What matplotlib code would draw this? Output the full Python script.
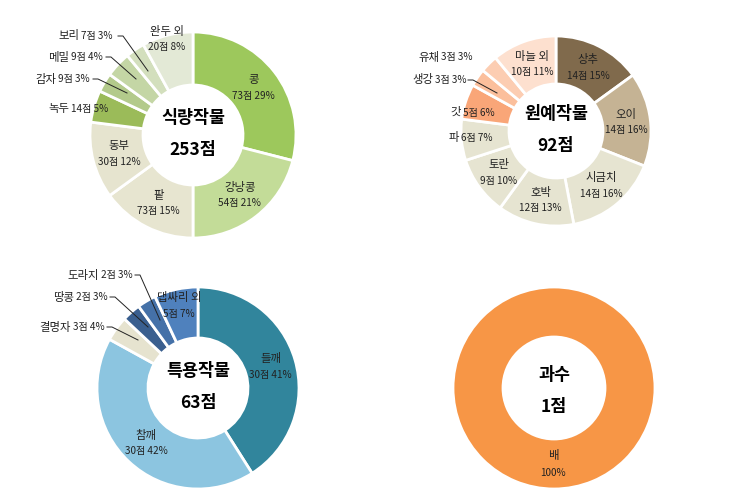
import numpy as np
import matplotlib
matplotlib.use("Agg")
import matplotlib.pyplot as plt

plt.rcParams['font.family'] = ['Noto Sans CJK KR', 'DejaVu Sans']

# 식량작물
food_names = ['콩', '강낭콩', '팥', '동부', '녹두', '감자', '메밀', '보리', '완두 외']
food_counts = [73, 54, 73, 30, 14, 9, 9, 7, 20]
food_pcts = [29, 21, 15, 12, 5, 3, 4, 3, 8]
food_colors = ['#9dc85c', '#c3dc98', '#e7e5d0', '#e6e4cf', '#9bbb59',
               '#b3ca8b', '#c4d6a5', '#d3dfbd', '#e3e9d6']

# 원예작물
hort_names = ['상추', '오이', '시금치', '호박', '토란', '파', '갓', '생강', '유채', '마늘 외']
hort_counts = [14, 14, 14, 12, 9, 6, 5, 3, 3, 10]
hort_pcts = [15, 16, 16, 13, 10, 7, 6, 3, 3, 11]
hort_colors = ['#806a4c', '#c5b394', '#e6e4d1', '#e6e4d1', '#e6e4d1', '#e6e4d1',
               '#f9a678', '#fbbf9c', '#fccdb2', '#fde0cf']

# 특용작물
spec_names = ['들깨', '참깨', '결명자', '땅콩', '도라지', '댑싸리 외']
spec_counts = [30, 30, 3, 2, 2, 5]
spec_pcts = [41, 42, 4, 3, 3, 7]
spec_colors = ['#31859c', '#8cc5e0', '#e6e3cf', '#3a5f8f', '#4571a8', '#4f81bd']

# 과수
fruit_names = ['배']
fruit_counts = [1]
fruit_pcts = [100]
fruit_colors = ['#f79646']

H = 504
NAME_FS = 8.2
NUM_FS = 7.2


def px(x, y):
    # pixel position (from top-left) -> data coords
    return x, H - y


def donut(ax, cx, cy, r, r_in, pcts, colors):
    c = px(cx, cy)
    wedges, _ = ax.pie(pcts, radius=r, center=c, startangle=90, counterclock=False,
                       colors=colors,
                       wedgeprops=dict(width=r - r_in, edgecolor='white', linewidth=2))
    return wedges


def inner_labels(ax, wedges, cx, cy, r, r_in, names, counts, pcts, skip, moved=None):
    moved = moved or {}
    c = px(cx, cy)
    rm = (r + r_in) / 2
    for i, w in enumerate(wedges):
        if i in skip:
            continue
        if i in moved:
            x, y = px(*moved[i])
            y -= 8
        else:
            ang = np.deg2rad((w.theta1 + w.theta2) / 2)
            x = c[0] + rm * np.cos(ang)
            y = c[1] + rm * np.sin(ang)
        ax.text(x, y + 8, names[i], ha='center', va='center', fontsize=NAME_FS, color='#222222')
        ax.text(x, y - 8, f'{counts[i]}점 {pcts[i]}%', ha='center', va='center',
                fontsize=NUM_FS, color='#222222')


def outer_label(ax, i, names, counts, pcts, pos, line=None):
    x, y = px(*pos)
    ax.text(x - 1, y, names[i], ha='right', va='center', fontsize=NAME_FS, color='#222222')
    ax.text(x + 1, y, f'{counts[i]}점 {pcts[i]}%', ha='left', va='center', fontsize=NUM_FS,
            color='#222222')
    if line is not None:
        pts = [px(*p) for p in line]
        ax.plot([p[0] for p in pts], [p[1] for p in pts], color='#222222', lw=0.7)


def center_title(ax, cx, cy, title, total):
    x, y = px(cx, cy)
    ax.text(x, y + 17, title, ha='center', va='center', fontsize=12.5, fontweight='bold')
    ax.text(x, y - 15, total, ha='center', va='center', fontsize=12.5, fontweight='bold')


fig = plt.figure(figsize=(7.4, 5.04), dpi=100)
ax = fig.add_axes([0, 0, 1, 1])

# 식량작물
w = donut(ax, 193, 135, 103, 50, food_pcts, food_colors)
inner_labels(ax, w, 193, 135, 103, 50, food_names, food_counts, food_pcts,
             skip=[4, 5, 6, 7], moved={8: (167, 31)})
outer_label(ax, 4, food_names, food_counts, food_pcts, (70, 109))
outer_label(ax, 5, food_names, food_counts, food_pcts, (57, 79),
            [(93, 79), (98, 79), (127, 93)])
outer_label(ax, 6, food_names, food_counts, food_pcts, (70, 57),
            [(106, 57), (111, 57), (136, 79)])
outer_label(ax, 7, food_names, food_counts, food_pcts, (80, 36),
            [(118, 36), (123, 36), (148, 71)])
center_title(ax, 193, 135, '식량작물', '253점')

# 원예작물
w = donut(ax, 556, 131, 95, 47, hort_pcts, hort_colors)
inner_labels(ax, w, 556, 131, 95, 47, hort_names, hort_counts, hort_pcts, skip=[5, 6, 7, 8])
outer_label(ax, 5, hort_names, hort_counts, hort_pcts, (460, 138))
outer_label(ax, 6, hort_names, hort_counts, hort_pcts, (462, 113))
outer_label(ax, 7, hort_names, hort_counts, hort_pcts, (434, 80),
            [(468, 80), (473, 80), (497, 93)])
outer_label(ax, 8, hort_names, hort_counts, hort_pcts, (440, 57))
center_title(ax, 556, 131, '원예작물', '92점')

# 특용작물
w = donut(ax, 198, 388, 101, 50, spec_pcts, spec_colors)
inner_labels(ax, w, 198, 388, 101, 50, spec_names, spec_counts, spec_pcts,
             skip=[2, 3, 4], moved={5: (179, 298)})
outer_label(ax, 2, spec_names, spec_counts, spec_pcts, (72, 327),
            [(107, 327), (112, 327), (138, 340)])
outer_label(ax, 3, spec_names, spec_counts, spec_pcts, (75, 297),
            [(110, 297), (115, 297), (148, 327)])
outer_label(ax, 4, spec_names, spec_counts, spec_pcts, (100, 275),
            [(135, 275), (140, 275), (160, 320)])
center_title(ax, 198, 388, '특용작물', '63점')

# 과수
w = donut(ax, 554, 388, 101, 51, fruit_pcts, fruit_colors)
xa, ya = px(553, 455)
ax.text(xa, ya, fruit_names[0], ha='center', va='center', fontsize=NAME_FS, color='#222222')
ax.text(xa, ya - 18, f'{fruit_pcts[0]}%', ha='center', va='center', fontsize=NUM_FS,
        color='#222222')
center_title(ax, 554, 392, '과수', '1점')

ax.set_xlim(0, 740)
ax.set_ylim(0, H)
ax.set_aspect('equal')
ax.axis('off')

fig.savefig('out.png', dpi=100)
